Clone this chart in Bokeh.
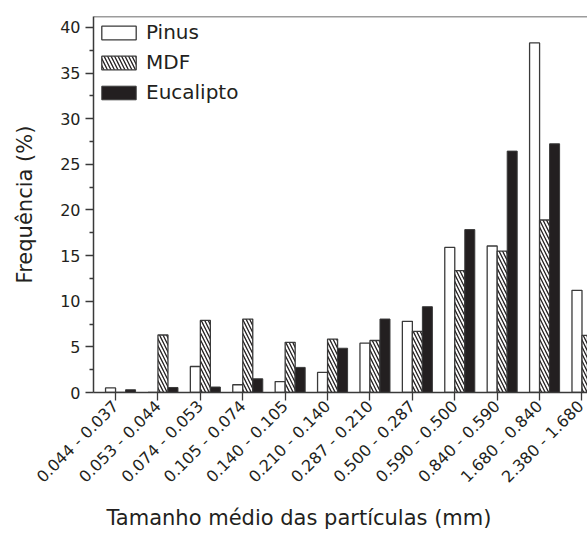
import math
from bokeh.plotting import figure
from bokeh.models import ColumnDataSource, FixedTicker, Span, Range1d, Title
from bokeh.transform import dodge
from bokeh.embed import file_html
from bokeh.resources import INLINE

categories = ["0.044 - 0.037", "0.053 - 0.044", "0.074 - 0.053", "0.105 - 0.074",
              "0.140 - 0.105", "0.210 - 0.140", "0.287 - 0.210", "0.500 - 0.287",
              "0.590 - 0.500", "0.840 - 0.590", "1.680 - 0.840", "2.380 - 1.680"]
pinus = [0.5, 0.0, 2.85, 0.85, 1.2, 2.2, 5.4, 7.8, 15.9, 16.05, 38.3, 11.2]
mdf = [0.0, 6.3, 7.9, 8.05, 5.5, 5.85, 5.7, 6.7, 13.35, 15.5, 18.9, 6.25]
eucalipto = [0.3, 0.55, 0.6, 1.5, 2.75, 4.85, 8.05, 9.4, 17.85, 26.45, 27.25]
y_ticks = [0, 5, 10, 15, 20, 25, 30, 35, 40]
y_minor = [2.5, 7.5, 12.5, 17.5, 22.5, 27.5, 32.5, 37.5]
x_title = "Tamanho médio das partículas (mm)"
y_title = "Frequência (%)"

idx = list(range(len(categories)))
src = ColumnDataSource(dict(idx=idx, pinus=pinus, mdf=mdf))
src_e = ColumnDataSource(dict(idx=idx[:len(eucalipto)], euc=eucalipto))

ink = "#231f20"
font = "DejaVu Sans"
bw = 0.236

p = figure(width=587, height=537, output_backend="svg", toolbar_location=None,
           x_range=Range1d(-0.52, 11.13), y_range=Range1d(0, 41.2),
           min_border_left=93, min_border_right=0, min_border_top=16,
           min_border_bottom=145)
p.outline_line_color = None
p.grid.visible = False
p.background_fill_color = "white"
p.border_fill_color = "white"

p.vbar(x=dodge('idx', -bw / 2), top='pinus', width=bw, source=src,
       fill_color="white", line_color="#3a3a3a", line_width=1.3, legend_label="Pinus")
p.vbar(x=dodge('idx', bw / 2), top='mdf', width=bw, source=src,
       fill_color="white", hatch_pattern="\\", hatch_color=ink, hatch_scale=7,
       hatch_weight=1.3, line_color="#3a3a3a", line_width=1.3, legend_label="MDF")
p.vbar(x=dodge('idx', bw * 1.5), top='euc', width=bw, source=src_e,
       fill_color=ink, line_color="#3a3a3a", line_width=1.0, legend_label="Eucalipto")

p.add_layout(Span(location=41.2, dimension="width", line_color="#3a3a3a", line_width=1.5))

p.xaxis.ticker = FixedTicker(ticks=idx, minor_ticks=[])
p.xaxis.major_label_overrides = {i: c for i, c in zip(idx, categories)}
p.xaxis.major_label_orientation = math.pi / 4
p.yaxis.ticker = FixedTicker(ticks=y_ticks, minor_ticks=y_minor)

for ax in (p.xaxis[0], p.yaxis[0]):
    ax.axis_line_color = "#3a3a3a"
    ax.axis_line_width = 1.5
    ax.major_tick_line_color = "#3a3a3a"
    ax.major_tick_line_width = 1.3
    ax.minor_tick_line_color = "#3a3a3a"
    ax.minor_tick_line_width = 1.3
    ax.major_tick_in = 0
    ax.major_tick_out = 8
    ax.minor_tick_in = 0
    ax.minor_tick_out = 4
    ax.major_label_text_font = font
    ax.major_label_text_font_size = "16px"
    ax.major_label_text_color = ink
    ax.axis_label_text_font = font
    ax.axis_label_text_font_size = "21px"
    ax.axis_label_text_font_style = "normal"
    ax.axis_label_text_color = ink

p.yaxis.axis_label = y_title
p.yaxis.major_label_standoff = 5
p.yaxis.axis_label_standoff = 20
p.xaxis.major_label_standoff = 3

xtitle = Title(text=x_title, align="left", offset=13,
               text_font=font, text_font_size="21px", text_font_style="normal",
               text_color=ink, standoff=16)
p.add_layout(xtitle, "below")

lg = p.legend[0]
lg.location = "top_left"
lg.label_text_font = font
lg.label_text_font_size = "20px"
lg.label_text_color = ink
lg.glyph_width = 43
lg.glyph_height = 17
lg.label_standoff = 6
lg.border_line_color = None
lg.background_fill_alpha = 0
lg.margin = 4
lg.padding = 7
lg.spacing = 6
lg.label_height = 22

open("out.html", "w").write(file_html(p, INLINE))
